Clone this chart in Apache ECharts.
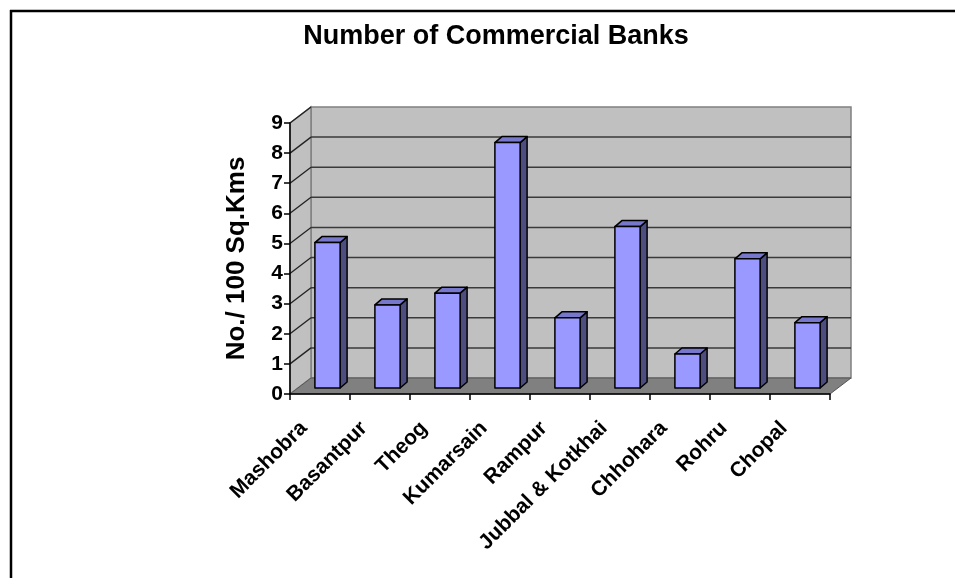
<!DOCTYPE html>
<html><head><meta charset="utf-8">
<script src="https://cdn.jsdelivr.net/npm/echarts@6/dist/echarts.min.js"></script>
<style>html,body{margin:0;padding:0;background:#fff}#c{width:955px;height:578px}</style>
</head><body><div id="c"></div>
<script>
const categories = ['Mashobra','Basantpur','Theog','Kumarsain','Rampur','Jubbal & Kotkhai','Chhohara','Rohru','Chopal'];
const values = [4.83, 2.76, 3.15, 8.15, 2.33, 5.36, 1.13, 4.29, 2.17];
const yMin = 0, yMax = 9, yInterval = 1;
const yTicks = [0,1,2,3,4,5,6,7,8,9];

const FONT = '"Liberation Sans", Arial, sans-serif';
const DX = 21, DY = -16;       // wall depth offset
const BOX = 7.5, BOY = -6;     // bar front plane offset
const BDX = 7, BDY = -6;       // bar depth

const chart = echarts.init(document.getElementById('c'), null, {renderer:'canvas'});

function wallsRender(params, api) {
  const p0 = api.coord([0, yMin]);
  const bw = api.size([1, 0])[0];
  const xL = p0[0] - bw / 2;
  const xR = xL + bw * categories.length;
  const yB = p0[1];
  const yT = api.coord([0, yMax])[1];
  const ch = [];
  ch.push({type:'rect', shape:{x:xL+DX, y:yT+DY, width:xR-xL, height:yB-yT},
    style:{fill:'#c0c0c0', stroke:'#808080', lineWidth:1.5}});
  ch.push({type:'polygon', shape:{points:[[xL,yB],[xL,yT],[xL+DX,yT+DY],[xL+DX,yB+DY]]},
    style:{fill:'#c0c0c0', stroke:'#808080', lineWidth:1.5}});
  ch.push({type:'polygon', shape:{points:[[xL,yB],[xL+DX,yB+DY],[xL+DX,yB]]},
    style:{fill:'#d6d6d6'}});
  ch.push({type:'polygon', shape:{points:[[xL,yB],[xR,yB],[xR+DX,yB+DY],[xL+DX,yB+DY]]},
    style:{fill:'#808080', stroke:'#555', lineWidth:1}});
  yTicks.forEach(function(v){
    if (v === yMin) return;
    const y = api.coord([0, v])[1];
    if (v !== yMax) {
      ch.push({type:'line', shape:{x1:xL+DX, y1:y+DY, x2:xR+DX, y2:y+DY},
        style:{stroke:'#3a3a3a', lineWidth:1.5}});
    }
    ch.push({type:'line', shape:{x1:xL, y1:y, x2:xL+DX, y2:y+DY},
      style:{stroke:'#222', lineWidth:1.3}});
  });
  return {type:'group', children: ch};
}

function barRender(params, api) {
  const idx = api.value(0);
  const val = api.value(1);
  const base = api.coord([idx, 0]);
  const top = api.coord([idx, val]);
  const w = api.size([1, 0])[0] * 0.42;
  const l = base[0] + BOX - w / 2, r = l + w;
  const yb = base[1] + BOY, yt = top[1] + BOY;
  const stroke = {stroke:'#000', lineWidth:1.5, lineJoin:'round'};
  return {type:'group', children:[
    {type:'polygon', shape:{points:[[r,yt],[r+BDX,yt+BDY],[r+BDX,yb+BDY],[r,yb]]},
      style:Object.assign({fill:'#4d4d80'}, stroke)},
    {type:'polygon', shape:{points:[[l,yt],[l+BDX,yt+BDY],[r+BDX,yt+BDY],[r,yt]]},
      style:Object.assign({fill:'#7777cc'}, stroke)},
    {type:'rect', shape:{x:l, y:yt, width:w, height:yb-yt},
      style:Object.assign({fill:'#9999ff'}, stroke)}
  ]};
}

const option = {
  animation: false,
  backgroundColor: '#fff',
  graphic: [
    {type:'line', shape:{x1:10, y1:11, x2:955, y2:11}, style:{stroke:'#000', lineWidth:2.5}, z:100},
    {type:'line', shape:{x1:11, y1:10, x2:11, y2:578}, style:{stroke:'#000', lineWidth:2.5}, z:100},
    {type:'text', x:496, y:37, style:{text:'Number of Commercial Banks', font:'bold 27px ' + FONT,
      fill:'#000', align:'center', verticalAlign:'middle'}}
  ],
  grid: [
    {left:290, top:123, width:540, height:271},
    {left:274, top:123, width:540, height:271}
  ],
  xAxis: [
    {type:'category', gridIndex:0, data:categories, z:10,
      axisLine:{lineStyle:{color:'#000', width:1.5}},
      axisTick:{show:true, interval:0, length:6, lineStyle:{color:'#000', width:1.5}},
      axisLabel:{show:false}, splitLine:{show:false}},
    {type:'category', gridIndex:1, data:categories,
      axisLine:{show:false}, axisTick:{show:false}, splitLine:{show:false},
      axisLabel:{show:true, interval:0, rotate:45, margin:31, color:'#000',
        fontFamily:FONT, fontWeight:'bold', fontSize:21}}
  ],
  yAxis: [
    {type:'value', gridIndex:0, min:yMin, max:yMax, interval:yInterval, z:10,
      name:'No./ 100 Sq.Kms', nameLocation:'middle', nameGap:40, nameRotate:90,
      nameTextStyle:{color:'#000', fontFamily:FONT, fontWeight:'bold', fontSize:26},
      axisLine:{show:true, lineStyle:{color:'#000', width:1.5}},
      axisTick:{show:true, length:6, lineStyle:{color:'#000', width:1.5}},
      axisLabel:{color:'#000', margin:7, fontFamily:FONT, fontWeight:'bold', fontSize:21},
      splitLine:{show:false}},
    {type:'value', gridIndex:1, min:yMin, max:yMax, show:false}
  ],
  series: [
    {type:'custom', xAxisIndex:0, yAxisIndex:0, renderItem:wallsRender, data:[[0, 0]], clip:false, silent:true, z:1},
    {type:'custom', xAxisIndex:0, yAxisIndex:0, renderItem:barRender, clip:false, z:5,
      data: values.map(function(v, i){ return [i, v]; })}
  ]
};
chart.setOption(option);
</script></body></html>
